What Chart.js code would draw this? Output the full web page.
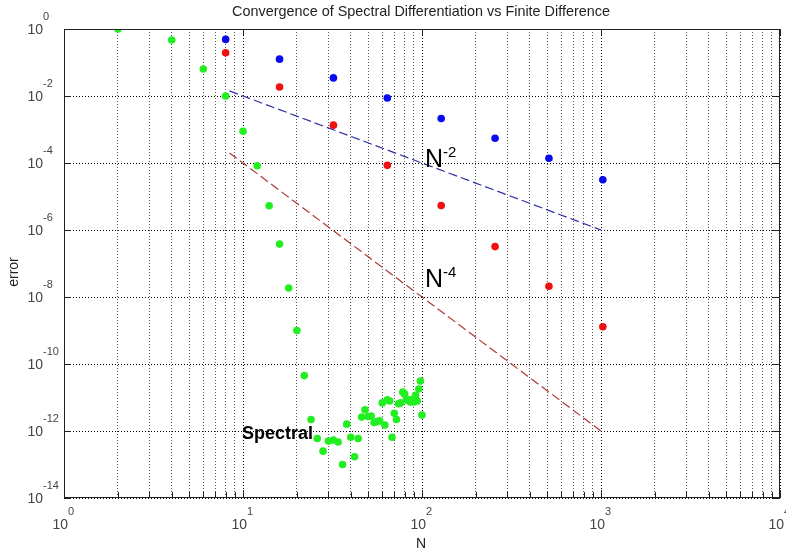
<!DOCTYPE html>
<html><head><meta charset="utf-8">
<script src="https://cdn.jsdelivr.net/npm/chart.js@4/dist/chart.umd.min.js"></script>
<style>html,body{margin:0;padding:0;background:#fff;overflow:hidden}</style>
</head><body>
<canvas id="c" width="786" height="555"></canvas>
<script>
// ---- data ----
const fdN = [8, 16, 32, 64, 128, 256, 512, 1024];
const fd2Err = [0.49, 0.126, 0.0347, 0.0087, 0.00214, 5.5e-4, 1.38e-4, 3.16e-5];
const fd4Err = [0.195, 0.0186, 1.35e-3, 8.5e-5, 5.4e-6, 3.2e-7, 2.1e-8, 1.29e-9];
const specN = [2,4,6,8,10,12,14,16,18,20,22,24,26,28,30,32,34,36,38,40,42,44,46,48,50,
               52,54,56,58,60,62,64,66,68,70,72,74,76,78,80,82,84,86,88,90,92,94,96,98,100];
const specErr = [1.0,0.47,0.064,0.01,8.9e-4,8.3e-5,5.3e-6,3.8e-7,1.86e-8,1.0e-9,4.5e-11,2.2e-12,
                 6.0e-13,2.5e-13,5.0e-13,5.4e-13,4.7e-13,1.0e-13,1.6e-12,6.5e-13,1.7e-13,6.0e-13,
                 2.6e-12,4.3e-12,2.7e-12,2.8e-12,1.8e-12,1.9e-12,2.0e-12,6.9e-12,1.5e-12,8.5e-12,
                 7.9e-12,6.5e-13,3.4e-12,2.2e-12,6.5e-12,6.9e-12,1.45e-11,1.26e-11,8.5e-12,8.5e-12,
                 7.4e-12,8.5e-12,7.4e-12,1.17e-11,7.9e-12,1.8e-11,3.1e-11,3.0e-12];
const refN = [8.4, 1000];
const ref2 = [0.01417, 1e-6];
const ref4 = [2.0e-4, 1e-12];
const xExp = [0, 1, 2, 3, 4];
const yExp = [0, -2, -4, -6, -8, -10, -12, -14];
const xMinorMult = [2, 3, 4, 5, 6, 7, 8, 9];

const pts = (xs, ys) => xs.map((x, i) => ({x: x, y: ys[i]}));
const xTickVals = [];
xExp.forEach(e => { xTickVals.push(Math.pow(10, e)); if (e < 4) xMinorMult.forEach(m => xTickVals.push(m * Math.pow(10, e))); });
const yTickVals = yExp.map(e => Math.pow(10, e));
const isMajorX = v => Math.abs(Math.log10(v) - Math.round(Math.log10(v))) < 1e-9;

const FONT = '"Liberation Sans", Arial, sans-serif';

const decor = {
  id: 'decor',
  afterDraw(chart) {
    const ctx = chart.ctx, a = chart.chartArea, xs = chart.scales.x, ys = chart.scales.y;
    ctx.save();
    // frame
    ctx.strokeStyle = '#222'; ctx.lineWidth = 1;
    ctx.strokeRect(Math.round(a.left) + 0.5, Math.round(a.top) + 0.5, Math.round(a.right - a.left) - 1, Math.round(a.bottom - a.top) - 1);
    // tick marks
    ctx.beginPath();
    xTickVals.forEach(v => {
      const px = Math.round(xs.getPixelForValue(v)) + 0.5;
      const major = isMajorX(v);
      const len = major ? 8 : 6;
      ctx.moveTo(px, a.bottom); ctx.lineTo(px, a.bottom - len);
      if (major) { ctx.moveTo(px, a.top); ctx.lineTo(px, a.top + 6); }
    });
    yTickVals.forEach(v => {
      const py = Math.round(ys.getPixelForValue(v)) + 0.5;
      ctx.moveTo(a.left, py); ctx.lineTo(a.left + 7, py);
      ctx.moveTo(a.right, py); ctx.lineTo(a.right - 7, py);
    });
    ctx.stroke();
    // tick labels
    ctx.fillStyle = '#444';
    yExp.forEach(e => {
      const py = ys.getPixelForValue(Math.pow(10, e));
      ctx.font = '14px ' + FONT; ctx.textAlign = 'right'; ctx.textBaseline = 'middle';
      ctx.fillText('10', 43, py + 1);
      ctx.font = '11px ' + FONT; ctx.textAlign = 'left';
      ctx.fillText(String(e), 43, py - 12);
    });
    xExp.forEach(e => {
      const px = xs.getPixelForValue(Math.pow(10, e));
      ctx.font = '14px ' + FONT; ctx.textAlign = 'right'; ctx.textBaseline = 'middle';
      ctx.fillText('10', px + 4, a.bottom + 27);
      ctx.font = '11px ' + FONT; ctx.textAlign = 'left';
      ctx.fillText(String(e), px + 4, a.bottom + 14);
    });
    // title & axis titles
    ctx.fillStyle = '#222';
    ctx.font = '14.4px ' + FONT; ctx.textAlign = 'center'; ctx.textBaseline = 'middle';
    ctx.fillText('Convergence of Spectral Differentiation vs Finite Difference', 421, 12);
    ctx.font = '14px ' + FONT;
    ctx.fillText('N', 421, 544);
    ctx.save(); ctx.translate(14, 272); ctx.rotate(-Math.PI / 2); ctx.fillText('error', 0, 0); ctx.restore();
    // annotations
    ctx.fillStyle = '#000'; ctx.textAlign = 'left'; ctx.textBaseline = 'alphabetic';
    ctx.font = '25px ' + FONT;
    ctx.fillText('N', 425, 167);
    ctx.fillText('N', 425, 287);
    ctx.font = '15px ' + FONT;
    ctx.fillText('-2', 443, 157);
    ctx.fillText('-4', 443, 277);
    ctx.font = 'bold 18px ' + FONT;
    ctx.fillText('Spectral', 242, 439);
    ctx.restore();
  }
};

new Chart(document.getElementById('c'), {
  type: 'scatter',
  data: {
    datasets: [
      {label: 'N^-2', type: 'line', data: pts(refN, ref2), borderColor: '#2e2ea6', borderWidth: 1.2, borderDash: [9, 4], pointRadius: 0, fill: false},
      {label: 'N^-4', type: 'line', data: pts(refN, ref4), borderColor: '#b03636', borderWidth: 1.2, borderDash: [9, 4], pointRadius: 0, fill: false},
      {label: 'FD2', data: pts(fdN, fd2Err), backgroundColor: '#0a0af0', borderWidth: 0, pointRadius: 3.8},
      {label: 'FD4', data: pts(fdN, fd4Err), backgroundColor: '#f01010', borderWidth: 0, pointRadius: 3.8},
      {label: 'Spectral', data: pts(specN, specErr), backgroundColor: '#22ee22', borderWidth: 0, pointRadius: 3.8}
    ]
  },
  options: {
    responsive: false, animation: false, devicePixelRatio: 1,
    layout: {padding: {left: 64, right: 6, top: 29, bottom: 57}},
    plugins: {legend: {display: false}, tooltip: {enabled: false}, title: {display: false}},
    scales: {
      x: {
        type: 'logarithmic', min: 1, max: 10000,
        ticks: {display: false},
        afterBuildTicks: s => { s.ticks = xTickVals.map(v => ({value: v})); },
        grid: {drawTicks: false, lineWidth: 1, color: ctx => (ctx.tick && isMajorX(ctx.tick.value)) ? '#000' : '#555'},
        border: {display: false, dash: [1, 2]}
      },
      y: {
        type: 'logarithmic', min: 1e-14, max: 1,
        ticks: {display: false},
        afterBuildTicks: s => { s.ticks = yTickVals.map(v => ({value: v})); },
        grid: {drawTicks: false, lineWidth: 1, color: '#000'},
        border: {display: false, dash: [1, 2]}
      }
    }
  },
  plugins: [decor]
});
</script></body></html>
